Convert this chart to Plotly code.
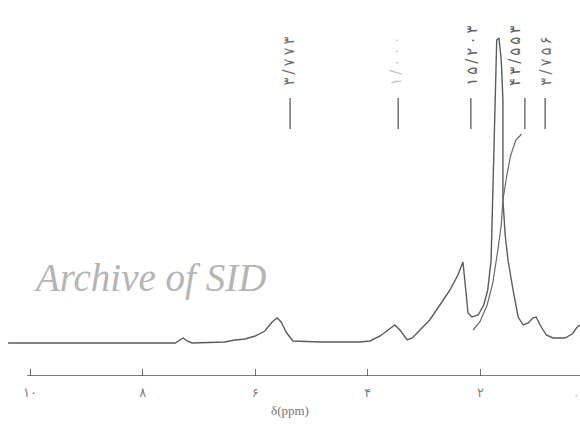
import plotly.graph_objects as go

# ---- data (chemical shift in ppm, relative intensity) ----
spec_ppm = [10.39, 9.47, 8.40, 7.42, 7.34, 7.28, 7.21, 7.12, 6.54, 6.36, 6.18, 6.00,
            5.83, 5.70, 5.61, 5.54, 5.44, 5.33, 4.85, 4.14, 3.96, 3.78, 3.64, 3.52,
            3.43, 3.30, 3.21, 3.07, 2.90, 2.72, 2.54, 2.40, 2.31, 2.26, 2.22, 2.15,
            2.04, 1.94, 1.87, 1.81, 1.78, 1.74, 1.71, 1.67, 1.63, 1.60, 1.60, 1.56,
            1.51, 1.42, 1.33, 1.24, 1.15, 1.07, 1.01, 0.94, 0.83, 0.71, 0.50, 0.37,
            0.28, 0.23]
spec_int = [33, 33, 33, 33, 36, 38, 35, 33, 34, 36, 37, 40,
            45, 54, 58, 54, 43, 35, 34, 34, 35, 40, 46, 51,
            46, 36, 38, 46, 56, 71, 86, 101, 114, 86, 63, 59,
            61, 71, 86, 116, 176, 256, 336, 338, 316, 276, 176, 141,
            116, 86, 59, 51, 53, 58, 59, 51, 41, 38, 38, 42,
            49, 51]

overlay_ppm = [2.13, 2.01, 1.88, 1.78, 1.69, 1.63, 1.60, 1.53, 1.46, 1.37, 1.30, 1.27]
overlay_int = [46, 54, 71, 93, 126, 151, 176, 201, 221, 236, 240, 242]

peak_ppm = [5.38, 3.46, 2.17, 1.21, 0.85]
peak_labels = ["۳/۷۷۳", "۱/۰۰۰", "۱۵/۲۰۳", "۴۳/۵۵۳", "۳/۷۵۶"]

tick_vals = [10, 8, 6, 4, 2, 0]
tick_text = ["۱۰", "۸", "۶", "۴", "۲", "۰"]
x_title = "δ(ppm)"
watermark = "Archive of SID"

# ---- figure ----
LINE = "#5c5c5c"
fig = go.Figure()

fig.add_trace(go.Scatter(x=spec_ppm, y=spec_int, mode="lines",
                         line=dict(color=LINE, width=1.4), hoverinfo="skip"))
fig.add_trace(go.Scatter(x=overlay_ppm, y=overlay_int, mode="lines",
                         line=dict(color="#6a6a6a", width=1.2), hoverinfo="skip"))

# short marker strokes above the peaks
mx, my = [], []
for p in peak_ppm:
    mx += [p, p, None]
    my += [247, 278, None]
fig.add_trace(go.Scatter(x=mx, y=my, mode="lines",
                         line=dict(color="#7a7a7a", width=1.6), hoverinfo="skip"))

# peak labels (rotated), glyphs spaced like the scanned original
THIN = "\u2009"
xshifts = [-2, -3, 1, -10, 0]
colors = ["#707070", "#c8c8c8", "#606060", "#606060", "#707070"]
for p, t, dx, c in zip(peak_ppm, peak_labels, xshifts, colors):
    fig.add_annotation(x=p, y=288, xref="x", yref="y", text=THIN.join(t), showarrow=False,
                       textangle=-90, xanchor="center", yanchor="bottom", xshift=dx,
                       font=dict(family="DejaVu Sans", size=15, color=c))

# x-axis baseline
fig.add_shape(type="line", x0=10.05, x1=0.0, y0=0, y1=0, xref="x", yref="y",
              line=dict(color="#505050", width=1.6))

# zero label at the right edge
fig.add_annotation(x=0.993, y=-0.05, xref="paper", yref="paper", text=tick_text[-1],
                   showarrow=False, xanchor="center", yanchor="middle",
                   font=dict(family="DejaVu Sans", size=12, color="#b0b0b0"))

# axis title
fig.add_annotation(x=290 / 580, y=-0.093, xref="paper", yref="paper", text=x_title,
                   showarrow=False, xanchor="center", yanchor="middle",
                   font=dict(family="Liberation Serif", size=13, color="#777777"))

# watermark
fig.add_annotation(x=31 / 580, y=0.26, xref="paper", yref="paper", text=watermark,
                   showarrow=False, xanchor="left", yanchor="middle",
                   font=dict(family="Liberation Serif", size=39, color="#b5b5b5",
                             style="italic"))

fig.update_xaxes(range=[10.533, 0.231], tickvals=tick_vals[:-1], ticktext=tick_text[:-1],
                 showgrid=False, zeroline=False, showline=False,
                 ticks="inside", ticklen=7, tickwidth=1.2, tickcolor="#707070",
                 tickfont=dict(family="DejaVu Sans", size=13, color="#808080"),
                 ticklabelstandoff=7)
fig.update_yaxes(range=[0, 376], visible=False)

fig.update_layout(width=580, height=441, autosize=False,
                  margin=dict(l=0, r=0, t=0, b=65),
                  plot_bgcolor="white", paper_bgcolor="white", showlegend=False)

fig.write_html("out.html")
